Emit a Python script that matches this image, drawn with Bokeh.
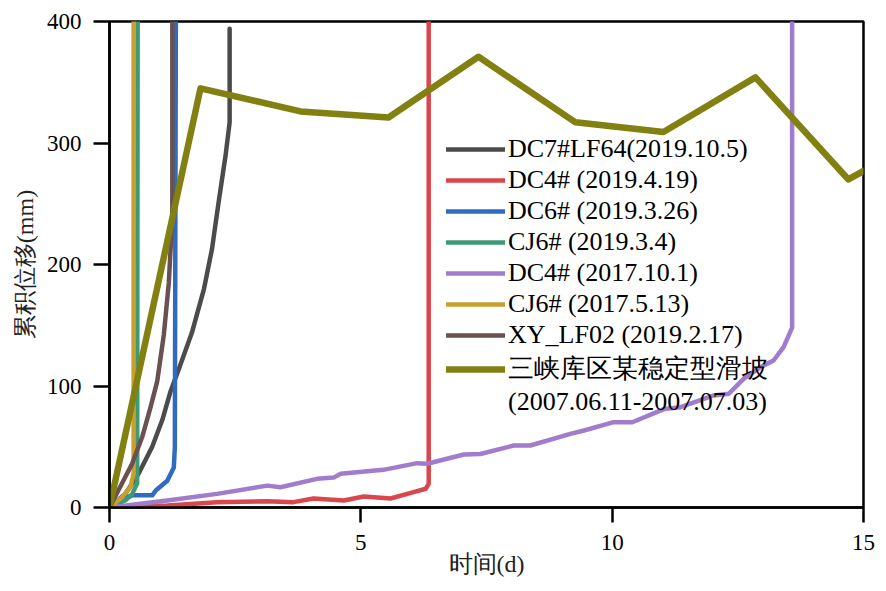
from bokeh.plotting import figure
from bokeh.models import Legend, LegendItem, FixedTicker, Range1d
from bokeh.embed import file_html
from bokeh.resources import INLINE

# ---- data ----
dc7_d = [0, 0.32, 0.58, 0.85, 1.05, 1.21, 1.38, 1.64, 1.88, 2.04, 2.17, 2.31, 2.39, 2.39]
dc7_v = [0, 11.5, 28, 50, 72, 95, 114, 144, 180, 213, 251, 290, 317, 394]

dc4a_d = [0, 1.15, 2.14, 3.14, 3.66, 4.06, 4.66, 5.06, 5.59, 6.05, 6.29, 6.35, 6.35]
dc4a_v = [0, 1.6, 4.4, 5.2, 4.4, 7.4, 5.8, 9, 7.4, 12.6, 15.4, 19.5, 400]

dc6_d = [0, 0.32, 0.45, 0.85, 0.92, 1.15, 1.28, 1.30, 1.32]
dc6_v = [0, 7.5, 10, 10, 14, 22, 33, 50, 400]

cj6a_d = [0, 0.32, 0.45, 0.55, 0.56]
cj6a_v = [0, 6, 11, 20, 400]

dc4b_d = [0, 1.15, 2.14, 3.14, 3.4, 4.13, 4.46, 4.6, 5.13, 5.45, 6.12, 6.32, 7.05, 7.38,
          8.04, 8.37, 9.17, 9.44, 10.03, 10.4, 11.03, 11.36, 12.02, 12.32, 12.62, 12.95,
          13.21, 13.41, 13.58, 13.58]
dc4b_v = [0, 5.8, 11.2, 18, 16.7, 23.6, 24.6, 27.7, 29.9, 31, 36.5, 36, 43.6, 44,
          51, 51, 60.6, 63.4, 70.2, 70.2, 81, 82.6, 92.2, 93.6, 106, 115.5,
          121, 132, 148, 400]

cj6b_d = [0, 0.25, 0.42, 0.48, 0.48]
cj6b_v = [0, 8.5, 17, 28, 400]

xy_d = [0, 0.25, 0.45, 0.65, 0.82, 0.95, 1.08, 1.18, 1.25, 1.25]
xy_v = [0, 20, 36, 58, 83, 104, 142, 185, 240, 400]

sx_d = [0, 1.81, 3.80, 5.55, 7.34, 9.27, 11.02, 12.85, 14.70, 15.0]
sx_v = [0, 345, 326, 321, 371, 317, 309, 354, 270, 277]

labels = ["DC7#LF64(2019.10.5)", "DC4# (2019.4.19)", "DC6# (2019.3.26)", "CJ6# (2019.3.4)",
          "DC4# (2017.10.1)", "CJ6# (2017.5.13)", "XY_LF02 (2019.2.17)",
          "三峡库区某稳定型滑坡"]
label_extra = "(2007.06.11-2007.07.03)"
x_ticks = [0, 5, 10, 15]
y_ticks = [0, 100, 200, 300, 400]

series = [(dc7_d, dc7_v), (dc4a_d, dc4a_v), (dc6_d, dc6_v), (cj6a_d, cj6a_v),
          (dc4b_d, dc4b_v), (cj6b_d, cj6b_v), (xy_d, xy_v), (sx_d, sx_v)]
colors = ["#4b4b4b", "#d9464c", "#2f6cbf", "#3d9a76", "#a17ccd", "#c9a030", "#6b5050", "#818010"]
widths = [4.5, 4.5, 4.5, 4.5, 4.5, 4.5, 4.5, 6.5]

SERIF = "Liberation Serif"

p = figure(width=878, height=583, output_backend="svg", toolbar_location=None,
           x_range=Range1d(0, 15), y_range=Range1d(0, 400),
           min_border_left=109, min_border_top=21, min_border_right=15, min_border_bottom=76)
p.xgrid.visible = False
p.ygrid.visible = False
p.outline_line_color = "black"
p.outline_line_width = 2.5
p.background_fill_color = "white"

rends = []
for (d, v), c, w in zip(series, colors, widths):
    r = p.line(d, v, line_color=c, line_width=w, line_join="round", line_cap="round")
    rends.append(r)
# invisible companion renderer so the olive label can take a second legend row
extra_r = p.line(sx_d, sx_v, line_alpha=0)

for ax in (p.xaxis[0], p.yaxis[0]):
    ax.axis_line_color = "black"
    ax.axis_line_width = 2.5
    ax.major_tick_line_color = "black"
    ax.major_tick_line_width = 2.5
    ax.major_tick_in = 0
    ax.minor_tick_line_color = None
    ax.major_label_text_font = SERIF
    ax.major_label_text_font_size = "23px"
    ax.major_label_text_color = "black"
    ax.axis_label_text_font = SERIF
    ax.axis_label_text_font_size = "24px"
    ax.axis_label_text_font_style = "normal"
    ax.axis_label_text_color = "#222222"

p.xaxis.major_tick_out = 15
p.yaxis.major_tick_out = 16
p.xaxis.ticker = FixedTicker(ticks=x_ticks)
p.yaxis.ticker = FixedTicker(ticks=y_ticks)
p.xaxis.axis_label = "时间(d)"
p.yaxis.axis_label = "累积位移(mm)"
p.xaxis.major_label_standoff = 12
p.yaxis.major_label_standoff = 12
p.xaxis.axis_label_standoff = -2
p.yaxis.axis_label_standoff = 6

items = [LegendItem(label=l, renderers=[r]) for l, r in zip(labels, rends)]
items.append(LegendItem(label=label_extra, renderers=[extra_r]))
legend = Legend(items=items, location=(337, 90))
legend.background_fill_alpha = 0
legend.border_line_color = None
legend.label_text_font = SERIF
legend.label_text_font_size = "26px"
legend.label_text_color = "black"
legend.glyph_width = 59
legend.glyph_height = 30
legend.label_height = 30
legend.label_standoff = 3
legend.spacing = 1
legend.padding = 4
legend.margin = 0
p.add_layout(legend, "center")

open("out.html", "w").write(file_html(p, INLINE))
